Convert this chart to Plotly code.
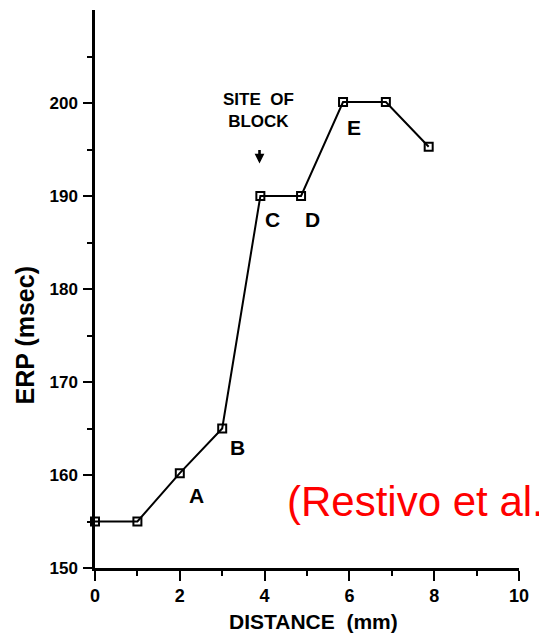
import plotly.graph_objects as go

# ERP measured along the distance from the first recording site
distance_mm = [0, 1, 2, 3, 3.9, 4.86, 5.85, 6.86, 7.87]
erp_msec = [155, 155, 160.2, 165, 190, 190, 200.1, 200.1, 195.3]

x_ticks = [0, 2, 4, 6, 8, 10]
y_ticks = [150, 160, 170, 180, 190, 200]

# Site labels and their positions (mm, msec)
site_labels = ["A", "B", "C", "D", "E"]
site_x = [2.4, 3.37, 4.19, 5.12, 6.12]
site_y = [157.8, 163.0, 187.5, 187.5, 197.4]

BOLD = "Liberation Sans"

fig = go.Figure()
fig.add_trace(go.Scatter(
    x=distance_mm, y=erp_msec,
    mode="lines+markers",
    line=dict(color="black", width=2),
    marker=dict(symbol="square-open", size=8, color="black",
                line=dict(color="black", width=2)),
    cliponaxis=False,
    showlegend=False,
))

annotations = []
for lab, lx, ly in zip(site_labels, site_x, site_y):
    annotations.append(dict(x=lx, y=ly, text=f"<b>{lab}</b>", showarrow=False,
                            font=dict(family=BOLD, size=21, color="black")))

# Block marker
annotations.append(dict(x=3.86, y=199.2, text="<b>SITE&nbsp;&nbsp;OF<br>BLOCK</b>",
                        showarrow=False,
                        font=dict(family=BOLD, size=17, color="black")))
annotations.append(dict(x=3.88, y=193.5, text="", showarrow=True,
                        ax=0, ay=-15, arrowhead=2, arrowsize=0.75, arrowwidth=2.6,
                        arrowcolor="black", standoff=0, startstandoff=0))

# Axis titles
annotations.append(dict(xref="paper", yref="y", x=-72 / 430, y=175.0,
                        xanchor="center", yanchor="middle",
                        text="<b>ERP (msec)</b>", textangle=-90, showarrow=False,
                        font=dict(family=BOLD, size=25, color="black")))
annotations.append(dict(xref="paper", yref="paper", x=0.516, y=-0.095,
                        xanchor="center", yanchor="middle",
                        text="<b>DISTANCE&nbsp;&nbsp;(mm)</b>", showarrow=False,
                        font=dict(family=BOLD, size=21, color="black")))

# Source
annotations.append(dict(x=4.47, y=157.1, xanchor="left", yanchor="middle",
                        text="(Restivo et al.)", showarrow=False,
                        font=dict(family="Liberation Sans", size=42, color="#ff0000")))

fig.update_layout(
    width=539, height=635,
    margin=dict(l=95, r=14, t=10, b=67),
    paper_bgcolor="white", plot_bgcolor="white",
    annotations=annotations,
    xaxis=dict(
        range=[0, 10], showgrid=False, zeroline=False,
        showline=True, linecolor="black", linewidth=2.5,
        tickvals=x_ticks, ticks="outside", ticklen=10, tickwidth=2, tickcolor="black",
        ticklabelstandoff=0,
        tickfont=dict(family=BOLD, size=18, color="black", weight="bold"),
        minor=dict(tickvals=[1, 3, 5, 7, 9], ticks="outside", ticklen=5,
                   tickwidth=2, tickcolor="black", showgrid=False),
    ),
    yaxis=dict(
        range=[150, 210], showgrid=False, zeroline=False,
        showline=True, linecolor="black", linewidth=2.5,
        tickvals=y_ticks, ticks="outside", ticklen=9, tickwidth=2, tickcolor="black",
        ticklabelstandoff=2,
        tickfont=dict(family=BOLD, size=17, color="black", weight="bold"),
        minor=dict(tickvals=[155, 165, 175, 185, 195, 205], ticks="outside", ticklen=5,
                   tickwidth=2, tickcolor="black", showgrid=False),
    ),
)

fig.write_html("out.html")
